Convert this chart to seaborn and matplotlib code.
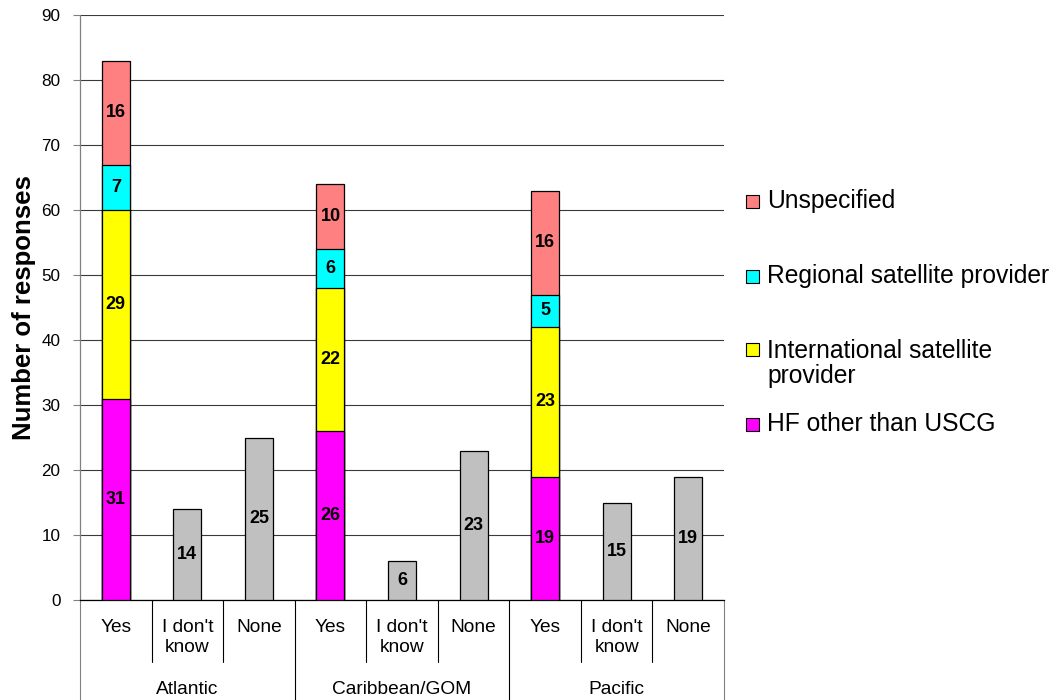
import numpy as np
import pandas as pd
import matplotlib
matplotlib.use("Agg")
import matplotlib.pyplot as plt
import seaborn as sns
from matplotlib.patches import Rectangle
from matplotlib.transforms import blended_transform_factory

# ---- data -------------------------------------------------------------
regions = ["Atlantic", "Caribbean/GOM", "Pacific"]
answers = ["Yes", "I don't\nknow", "None"]

hf_other = [31, 26, 19]          # HF other than USCG
intl_sat = [29, 22, 23]          # International satellite provider
regional_sat = [7, 6, 5]         # Regional satellite provider
unspecified = [16, 10, 16]       # Unspecified
dont_know = [14, 6, 15]          # "I don't know" answers
none_resp = [25, 23, 19]         # "None" answers

layer_names = ["HF other than USCG", "International satellite\nprovider",
               "Regional satellite provider", "Unspecified"]
layer_values = [hf_other, intl_sat, regional_sat, unspecified]
layer_colors = ["#FF00FF", "#FFFF00", "#00FFFF", "#FF8080"]
gray = "#C0C0C0"
y_ticks = list(range(0, 91, 10))

# ---- tables -----------------------------------------------------------
slots = [f"{r}|{a}" for r in regions for a in answers]

rows = []
for li, vals in enumerate(layer_values):
    for ri, r in enumerate(regions):
        below = sum(layer_values[k][ri] for k in range(li))
        rows.append(dict(slot=f"{r}|Yes", layer=layer_names[li],
                         value=vals[ri], bottom=below, top=below + vals[ri]))
stack_df = pd.DataFrame(rows)

single_rows = []
for ri, r in enumerate(regions):
    single_rows.append(dict(slot=f"{r}|{answers[1]}", value=dont_know[ri]))
    single_rows.append(dict(slot=f"{r}|{answers[2]}", value=none_resp[ri]))
single_df = pd.DataFrame(single_rows)

# ---- figure -----------------------------------------------------------
sns.set_style("white")
plt.rcParams["font.family"] = ["Liberation Sans", "DejaVu Sans"]
plt.rcParams["text.color"] = "black"
plt.rcParams["axes.labelcolor"] = "black"
plt.rcParams["xtick.color"] = "black"
plt.rcParams["ytick.color"] = "black"

W, H = 1063, 700
fig = plt.figure(figsize=(W / 100, H / 100), dpi=100)
ax = fig.add_axes([80 / W, 1 - 600 / H, (724 - 80) / W, (600 - 15) / H])

bar_w = 0.39
edge_lw = 0.9

# stacked bars: draw cumulative tops from the highest layer downwards
for li in reversed(range(len(layer_names))):
    sub = stack_df[stack_df["layer"] == layer_names[li]]
    sns.barplot(data=sub, x="slot", y="top", order=slots, color=layer_colors[li],
                saturation=1, width=bar_w, errorbar=None, edgecolor="black",
                linewidth=edge_lw, ax=ax, zorder=3)

sns.barplot(data=single_df, x="slot", y="value", order=slots, color=gray,
            saturation=1, width=bar_w, errorbar=None, edgecolor="black",
            linewidth=edge_lw, ax=ax, zorder=3)

# value labels
lab_kw = dict(ha="center", va="center", fontsize=13, fontweight="bold",
              color="black", zorder=5)
for _, row in stack_df.iterrows():
    x = slots.index(row["slot"])
    ax.text(x, row["bottom"] + row["value"] / 2, f"{row['value']}", **lab_kw)
for _, row in single_df.iterrows():
    x = slots.index(row["slot"])
    ax.text(x, row["value"] / 2, f"{row['value']}", **lab_kw)

# axes styling
ax.set_xlim(-0.5, len(slots) - 0.5)
ax.set_ylim(0, 90)
ax.set_yticks(y_ticks)
ax.set_yticklabels([str(t) for t in y_ticks], fontsize=12.3, color="black")
ax.yaxis.grid(True, color="#3a3a3a", linewidth=0.8)
ax.set_axisbelow(True)
ax.tick_params(axis="y", length=5, width=0.8, color="#808080", pad=9, left=True,
               labelcolor="black")
ax.tick_params(axis="x", length=0, labelbottom=False)
ax.set_xlabel("")
ax.set_ylabel("Number of responses", fontsize=18.5, fontweight="bold",
              color="black")
ax.yaxis.set_label_coords((36 - 80) / (724 - 80), 0.5)
for s in ["top", "right"]:
    ax.spines[s].set_visible(False)
ax.spines["left"].set_color("#808080")
ax.spines["left"].set_linewidth(0.9)
ax.spines["bottom"].set_color("black")
ax.spines["bottom"].set_linewidth(0.9)

# two-level category axis below the plot
tr = blended_transform_factory(ax.transData, ax.transAxes)
ax_h = 600 - 15
sub_depth = -(662 - 600) / ax_h
grp_depth = -(700 - 600) / ax_h
for b in np.arange(-0.5, len(slots), 1.0):
    depth = grp_depth if (b + 0.5) % len(answers) == 0 else sub_depth
    col = "#808080" if b == -0.5 or b == len(slots) - 0.5 else "black"
    ax.plot([b, b], [0, depth], color=col, linewidth=0.8, clip_on=False,
            transform=tr)

for i, s in enumerate(slots):
    ax.text(i, -(619 - 600) / ax_h, s.split("|")[1], transform=tr, ha="center",
            va="top", fontsize=13.8, linespacing=1.2, color="black")
for gi, r in enumerate(regions):
    ax.text(gi * len(answers) + 1, -(689 - 600) / ax_h, r, transform=tr,
            ha="center", va="center", fontsize=13.8, color="black")

# legend
def fx(px):
    return px / W

def fy(py):
    return 1 - py / H

legend_items = [
    ("Unspecified", "#FF8080", 201, 201),
    ("Regional satellite provider", "#00FFFF", 276, 276),
    ("International satellite\nprovider", "#FFFF00", 350, 363.5),
    ("HF other than USCG", "#FF00FF", 424, 424),
]
sq = 13
for label, c, sy, ty in legend_items:
    fig.patches.append(Rectangle((fx(746), fy(sy + sq / 2)), sq / W, sq / H,
                                 facecolor=c, edgecolor="black", linewidth=0.8,
                                 transform=fig.transFigure, figure=fig))
    fig.text(fx(767), fy(ty), label, ha="left", va="center", fontsize=17.75,
             linespacing=1.05, color="black")

fig.savefig("out.png", dpi=100)
